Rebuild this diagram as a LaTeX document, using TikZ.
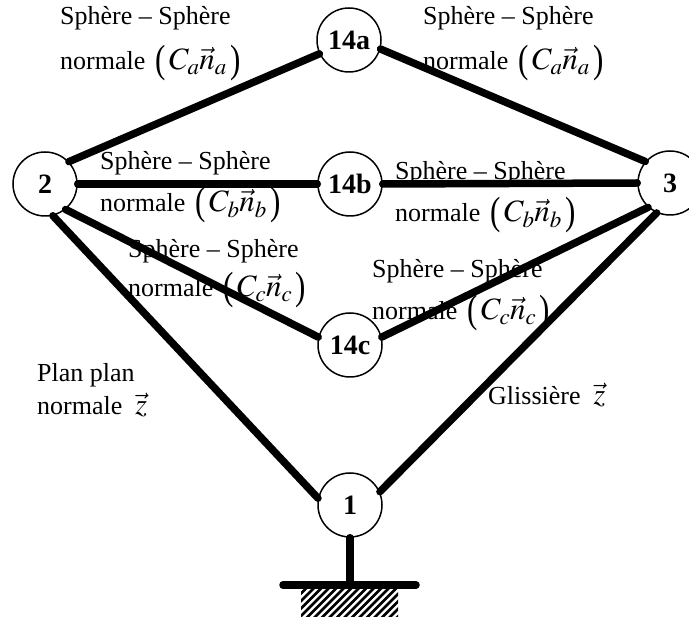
\documentclass[tikz,border=0pt]{standalone}
\usepackage{graphicx}
\usepackage{mathptmx}
\usepackage{fontspec}
\setmainfont{Liberation Serif}
\newcommand\bigpar[1]{\raisebox{-3pt}{\scalebox{1}[1.27]{#1}}}
\newcommand\normlab[1]{normale\hspace{10pt}{\fontsize{31}{34}\selectfont\bigpar{(}$\,C_{#1}\vec{n}_{#1}\,$\bigpar{)}}}
\newcommand\zvec{{\fontsize{30}{34}\selectfont$\vec{z}$}}
\tikzset{
  body/.style={circle, draw, line width=1.5pt, fill=white, minimum size=64pt, inner sep=0pt, font=\fontsize{28}{30}\selectfont\bfseries},
  link/.style={line width=7.5pt, line cap=round},
  lbl/.style={anchor=base west, inner sep=0pt, font=\fontsize{26}{30}\selectfont},
  hatchline/.style={line width=2.7pt},
}
\begin{document}
\begin{tikzpicture}[x=1pt,y=-1pt]
\useasboundingbox (0,0) rectangle (689,617);
% labels
\node[lbl] (la1) at (60,25) {Sphère – Sphère};
\node[lbl] (la2) at (60,70) {\normlab{a}};
\node[lbl] (ra1) at (423,25) {Sphère – Sphère};
\node[lbl] (ra2) at (423,70) {\normlab{a}};
\node[lbl] (lb1) at (100,170) {Sphère – Sphère};
\node[lbl] (lb2) at (100,212) {\normlab{b}};
\node[lbl] (rb1) at (395,180) {Sphère – Sphère};
\node[lbl] (rb2) at (395,222) {\normlab{b}};
\node[lbl] (lc1) at (128,258) {Sphère – Sphère};
\node[lbl] (lc2) at (128,297) {\normlab{c}};
\node[lbl] (rc1) at (372,278) {Sphère – Sphère};
\node[lbl] (rc2) at (372,320) {\normlab{c}};
\node[lbl] (pp1) at (37,382) {Plan plan};
\node[lbl] (pp2) at (37,415) {normale \ \zvec};
\node[lbl] (gl1) at (488,405) {Glissière \ \zvec};
% bodies
\node[body] (n14a) at (349,40) {14a};
\node[body] (n2) at (45,184) {2};
\node[body] (n14b) at (350,184) {14b};
\node[body] (n3) at (670,183) {3};
\node[body] (n14c) at (350,345) {14c};
\node[body] (n1) at (350,505) {1};
% links
\draw[link] (n2.43.7) -- (n14a.205.7);
\draw[link] (n14a.344) -- (n3.139);
\draw[link] (n2.east) -- (n14b.west);
\draw[link] (n14b.east) -- (n3.west);
\draw[link] (n2.309.8) -- (n14c.166);
\draw[link] (n14c.14) -- (n3.228.7);
\draw[link] (n2.284.5) -- (n1.168.7);
\draw[link] (n3.246) -- (n1.24);
% ground
\coordinate (g) at (350,585);
\coordinate (gl) at (283,585);
\coordinate (gr) at (416,585);
\draw[link] (n1.south) -- (g);
\draw[link] (gl) -- (gr);
\begin{scope}
\clip (301,590) rectangle (398,617);
\foreach \i in {0,...,19} \draw[hatchline] (265+7.5*\i,622) -- ++(40,-40);
\end{scope}
\end{tikzpicture}
\end{document}
